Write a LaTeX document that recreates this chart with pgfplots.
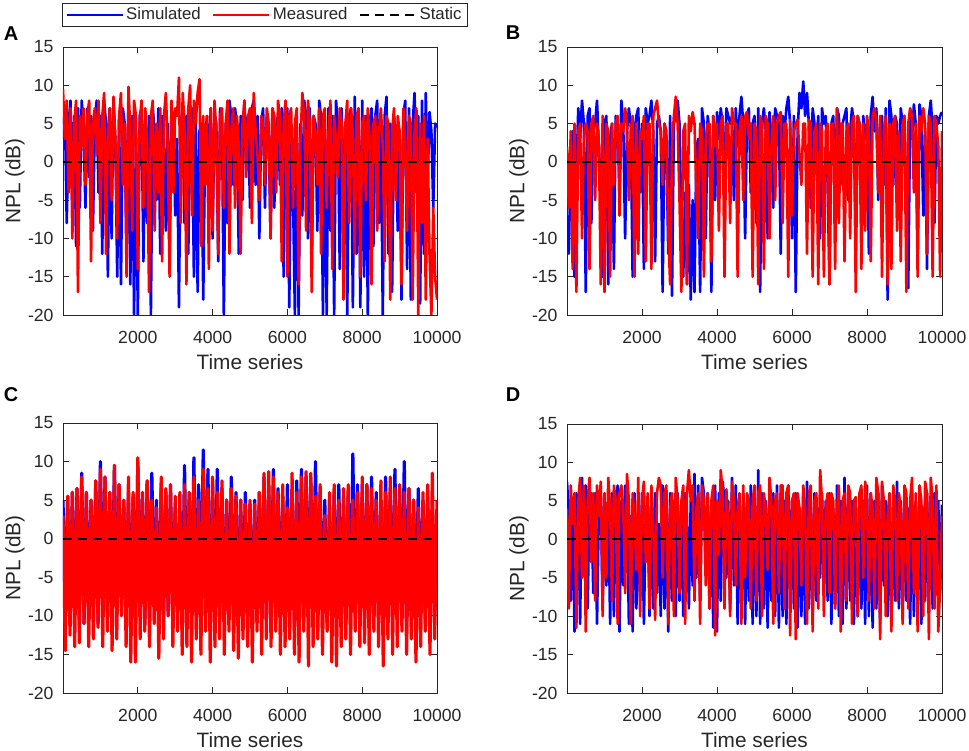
\documentclass[border=0pt]{standalone}
\usepackage{pgfplots}
\usepackage{pgfplotstable}
\pgfplotsset{compat=1.18}
\usepackage{fontspec}
\setmainfont{Liberation Sans}
\definecolor{txt}{HTML}{262626}
\definecolor{simb}{HTML}{0000FF}
\definecolor{measr}{HTML}{FF0000}

% Panel A: simulated (col 0), measured (col 1), step 50
\pgfplotstableread[row sep=\\, header=false]{
3 9.5\\ 7 3\\ -8 8\\ 5 -4\\ 8 7\\ -3 -10\\ 6 5\\ -11 8\\ 7 -17\\ -6 6\\
8 2\\ 4 7\\ -6 -3\\ 7 6\\ -2 8\\ 6 -13\\ -9 5\\ 5 7\\ 8 1\\ -4 8\\
6 -8\\ -12 6\\ 8 9\\ 5 -12\\ -15 4\\ 7 7\\ -10 -5\\ 8 8.5\\ 3 3\\ -15 -10\\
6 6\\ -16 9\\ 7 -3\\ 5 5\\ -12 -15\\ 8 9.8\\ -16 4\\ 6 -9\\ -20 8\\ 4 6\\
-20 -14\\ 6 5\\ 7 8\\ -13 -6\\ 5 7\\ -8 3\\ 6 -17\\ -20 6\\ 7 8\\ 4 -9\\
-5 5\\ 7 -4\\ -12 7\\ 6 -13\\ 3 6\\ -9 9\\ 5 2\\ -13 -15\\ 7 8\\ 6 -4\\
-7 7\\ 3 6\\ -19 11\\ 5 -8\\ 7 9\\ -8 5\\ 6 -16\\ -12 7\\ 4 10\\ 7 -7\\
-15 8\\ 6 5\\ -17 9\\ 4 10.8\\ 5 -11\\ -18 6\\ 3 -3\\ 6 6\\ -2 -14\\ 7 7\\
-10 -9\\ 6 8\\ 5 4\\ -13 -12\\ 7 6\\ 6 7\\ -20 -6\\ 5 5\\ -8 8\\ 8 -12\\
6 4\\ -3 7\\ 7 -6\\ 5 6\\ -12 2\\ 6 -12\\ -5 5\\ 8 8\\ 2 -2\\ 6 6\\
-6 7\\ 7 -8\\ 8 9\\ -3 4\\ 6 1\\ -10 -5\\ 5 6\\ 7 5\\ -6 -3\\ 6 7\\
4 5\\ -10 -10\\ 7 7\\ -6 6\\ 5 -4\\ 6 8\\ -3 6\\ 7 -13\\ -15 5\\ 6 8\\
7 -15\\ -19 6\\ 5 7\\ -4 -6\\ -20 5\\ 6 7\\ -20 -16\\ 5 3\\ -7 9\\ 8 6\\
6 -9\\ -10 8\\ 7 5\\ -14 -17\\ 6 6\\ 5 4\\ -9 -3\\ 8 7\\ 6 -12\\ -20 6\\
5 7\\ -20 -6\\ 7 4\\ -9 8\\ 6 -14\\ -20 6\\ 8 3\\ 5 -2\\ -14 7\\ 7 5\\
-6 -18\\ 5 5\\ -20 8\\ 6 -8\\ 7 7\\ -19 4\\ 8.5 -12\\ -12 6\\ 6 7\\ -19 -15\\
8 5\\ -15 6\\ 6 -5\\ -20 7\\ 5 3\\ 7 -16\\ -11 5\\ 6 6\\ 8 -9\\ -8 4\\
5 7\\ -20 2\\ 6 -13\\ 8.5 6\\ -12 5\\ 5 -18\\ -17 4\\ 6 7\\ 3 -5\\ -9 6\\
4 4\\ -18 -16\\ 6 7\\ 8 3\\ -14 -9\\ 7 6\\ -18 5\\ 5 -18\\ 9 4\\ -4 7\\
6 -20\\ -18.5 5\\ 8 -8\\ -12 6\\ 9 -18\\ -3 3\\ 6.5 -12\\ 4 -20\\ -6 -6\\ 5 -15\\
4.5 -18\\
}\dataA

% Panel B
\pgfplotstableread[row sep=\\, header=false]{
-7 2\\ -12 -6\\ 2 4\\ 4 -14\\ -15 5\\ -2 -17\\ 7 4\\ 3 5\\ 8 -10\\ 5 3\\
-17 5\\ 6 4\\ 7 -14\\ -8 5\\ 4 6\\ 5 -5\\ 8 5\\ 2 3\\ -3 -16\\ -15 6\\
5 -17\\ 6 5\\ -16 4\\ 3 -15\\ 5 5\\ -14 -3\\ 6 5\\ 4 6\\ -2 -7\\ 8 5\\
5 4\\ -10 7\\ 4 5\\ 7 -5\\ 5 4\\ -15 6\\ 4 -15\\ 6 5\\ 7 -12\\ -4 4\\
5 3\\ -14 6\\ 7 -13\\ 5 5\\ 6 5\\ 8 -14\\ 4 6\\ -13 7\\ 5 8\\ 6 5\\
4 4\\ -17 -3\\ 5 5\\ 3 4\\ -12 -9\\ 6 -16\\ -17.5 2\\ 5 6\\ 6 8.5\\ 8 5\\
5 -5\\ -8 -17\\ -15 4\\ -4 5\\ -16 -16\\ -3 6\\ -18 4\\ -5 6.5\\ -17 5\\ 2 -4\\
3 -10\\ -17 5\\ 7 4\\ 5 -15\\ -10 3\\ 6 5\\ 4 5\\ -17 -13\\ 6 6\\ -5 2\\
6.5 5\\ 3 -9\\ 7 5\\ 5 6\\ -3 -15\\ 7 5\\ 6 5\\ 5 -8\\ 6 7\\ -5 5\\
7 5\\ 2 -15\\ 6 4\\ 8.5 6\\ 5 -5\\ -10 6\\ 6 6.5\\ 7 3\\ -4 5\\ 5 -15\\
6 5\\ -8 4\\ 7 -16\\ -17 6\\ 5 5\\ 7 -14\\ 4 6\\ -10 5\\ 6.5 -10\\ 3 2\\
-6 6\\ 7 -5\\ 6 5\\ 5 6\\ -12 6.5\\ 6 -8\\ 4 5\\ 7 5\\ 8.5 -15\\ 5 5.5\\
-10 -7\\ 6 4\\ -17 5\\ 4 5.5\\ 9 1\\ 7 -3\\ 10.5 5\\ 6 5\\ 9 -12\\ 5 5.5\\
-6 5\\ 7 -15\\ 5 4\\ 1 5\\ 6 -16\\ -10 5\\ 7 4\\ 5 -15\\ 6 4\\ -3 5\\
-16 -16\\ 5 5\\ 6 5\\ -4 -14\\ 7 7\\ 6 -8\\ -3 5\\ 5 5\\ 6 -13\\ 7 4\\
-5 5\\ 4 -10\\ 7 5\\ 5 6\\ -10 -17\\ 6 6\\ 5 5\\ -4 -14\\ 6 5\\ 3 -9\\
5 6\\ -12 4\\ 6 -13\\ 8.5 6\\ 4 7\\ 7 5\\ -5 -4\\ 5 6\\ 6 -15\\ -3 4\\
7 6\\ -18 -16\\ 8 5\\ 6 -14\\ -3 5\\ 6 6\\ 5 -9\\ -5 4\\ 7 -13\\ 5 5\\
6 6\\ -8 -17\\ -16.5 5\\ 6 7\\ 3 6\\ 7.5 -4\\ 5 5\\ -12 -15\\ 7.5 6\\ 6 4\\
-7 7\\ 4 5\\ -14 -12\\ 6 6\\ 8 5\\ 4 -15\\ -8 6\\ 6 5\\ 5 2\\ 6 -15\\
6.5 4\\
}\dataB

% Panel C, step 62.5
\pgfplotstableread[row sep=\\, header=false]{
5 3\\ -10.5 -14.5\\ 5.5 5.5\\ -11 -12.5\\ 6 6\\ -9 -14\\ 6.5 6.5\\ -10.5 -13.5\\ 8.5 8\\ -11 -11\\
6 6\\ -10 -14\\ 5 5\\ -9 -13\\ 7.5 7.5\\ -11 -11.5\\ 10 9\\ -8 -14\\ 8 8\\ -10 -12\\
6 6\\ -9 -14.5\\ 9.5 9.5\\ -10 -13\\ 7 7\\ -9 -10\\ 5 5\\ -11 -14\\ 6 8\\ -10 -16\\
5.5 6\\ -10.5 -16\\ 10 10.5\\ -9 -13\\ 6 6\\ -11 -12\\ 7.5 7.5\\ -10 -14\\ 8.5 5\\ -8 -11\\
5 4\\ -10.5 -15.5\\ 6.5 8\\ -9 -13\\ 6 6.5\\ -10 -10\\ 7 7\\ -11 -14\\ 4 5.5\\ -9 -12\\
3 6\\ -10 -15\\ 9.5 7\\ -11 -14\\ 6 6\\ -9 -16\\ 10.5 8\\ -10 -13\\ 7 5\\ -8 -15\\
11.5 9\\ -10 -12\\ 9 6.5\\ -11 -16\\ 7 8\\ -9 -14\\ 9 6\\ -10 -13\\ 6.5 7.5\\ -10.5 -15\\
5 5\\ -9 -12\\ 8 6.5\\ -11 -14.5\\ 6 5.5\\ -10 -15.5\\ 5 5\\ -9 -13\\ 6 4.5\\ -10 -14\\
4.5 5\\ -11 -16\\ 5 4.5\\ -9 -12\\ 6 6\\ -10 -15\\ 8 8.5\\ -10.5 -13\\ 7 8.7\\ -9 -14\\
9 8\\ -11 -12\\ 6.5 6\\ -10 -15\\ 5.5 7\\ -9 -14\\ 7 4\\ -10 -13\\ 6 8.5\\ -11 -15\\
7.5 6\\ -9 -16\\ 9 8\\ -10 -12\\ 8 8.7\\ -9 -16.5\\ 8 8.5\\ -11 -14\\ 10 5.5\\ -10.5 -13\\
6 7\\ -9 -15\\ 5 3\\ -11 -12\\ 4 6\\ -10 -16\\ 6 7\\ -9 -16.5\\ 7 5\\ -10 -14\\
5.5 6.5\\ -11 -13\\ 6 7\\ -9 -15\\ 11 5\\ -10 -12\\ 7 6\\ -9 -14\\ 6 8\\ -10 -13.5\\
7 7\\ -11 -15\\ 8 6.5\\ -9 -12\\ 6 5\\ -10 -14\\ 5 7.5\\ -11 -16.5\\ 8 6\\ -9 -13\\
6 8\\ -10 -15\\ 9 6.5\\ -10.5 -14\\ 6 7\\ -9 -12\\ 10 6\\ -11 -15\\ 6.5 6.5\\ -10 -13\\
5 5\\ -9 -16\\ 6.5 4\\ -10 -14\\ 5 6\\ -11 -12\\ 5.5 7\\ -9 -15\\ 5 8.5\\ -10 -13\\
3 5\\
}\dataC

% Panel D, step 50
\pgfplotstableread[row sep=\\, header=false]{
7.5 4\\ 3 -9\\ -8 7\\ 5 2\\ -12 6\\ 6 -11.5\\ 3 5\\ -11 8\\ 8 -5\\ -3 7\\
7 -12\\ -9 5\\ 5 8\\ 6 -3\\ -7 6\\ 6 -8\\ -11 7\\ 4 3\\ 7 7.5\\ -9 -10\\
6 6\\ -6 -5\\ 5 8\\ -11 4\\ 6 -8\\ -10 7\\ 4 5\\ 7 -11\\ -12 6\\ 5 7\\
-6 4\\ 7 -7\\ 5 8.5\\ -11 5\\ 3 -11\\ -12 6\\ 6 3\\ -9 -4\\ 4 8\\ -8 -10\\
6 5\\ -11 7.5\\ 3 -3\\ 5 6\\ -10 -9\\ 5 7\\ -9 2\\ 6 -10.5\\ -7 6\\ 2 8\\
-10 7\\ 7 -5\\ -9 6\\ 5 7\\ -12 -11\\ 6 4\\ -8 6\\ 5 -10\\ -10 8\\ 6 5\\
-8 -7\\ 5 5\\ -10 7\\ 6 -11\\ 3 6\\ -9 9\\ 5 5\\ -6 7\\ 8.5 -8\\ -5 4\\
7 6\\ -8 -11\\ 8 7\\ 6 5\\ -4 -6\\ 6 6\\ -9 -9\\ 5 5\\ -11.5 7\\ 7 -12.5\\
-12 5\\ 6 -2\\ -8 9\\ 7.5 6\\ 5 -9\\ -5 6.5\\ 5 2\\ -9 -10\\ 8 7.5\\ -6 5\\
7 -6\\ -11 4\\ 5 6\\ -9 -11\\ 6 7\\ -11 -5\\ 4 6\\ -8 5\\ 7 -9\\ -11 5\\
5 7\\ -10 -8\\ 9 6\\ -11 7\\ 6 -10\\ -9 6\\ 5 4\\ -11.5 -4\\ 4 8\\ -8 5\\
6 -11\\ -10 5\\ 7 6\\ -11.5 -7\\ 6 7\\ -10 7\\ 5 -9\\ -11 6\\ 7 7\\ -6 -12.5\\
5 5\\ -9 6\\ 6 -13\\ -11.5 6\\ 4 4\\ -10 -6\\ 6 7\\ -11 4\\ 7.5 -11\\ -9 6\\
5 7\\ -10.5 -12\\ 6 5\\ -8 6\\ 4 -9\\ -5 9\\ 6 5\\ -3 -10\\ 5 4\\ -8 6\\
6 -7\\ -11 6\\ 4 5\\ -9 -9\\ 7 4\\ -10 7\\ 5 -12\\ -11 5\\ 8 6\\ -9 -8\\
6 7\\ -8 6\\ 5 -11\\ -11 5\\ 4 5.5\\ -10 -10\\ 6 6\\ -9 7\\ 5 -5\\ -11 7.5\\
7 5\\ -10 -8\\ 6 6\\ -11.5 4\\ 5 -9\\ -9 8\\ 6 6\\ -11 -13\\ 7 7.5\\ -6 5\\
5 -10\\ -10 3\\ 6 6\\ -11 -12\\ 4 7\\ -8 5\\ 7.5 -8\\ -9 6\\ 5 4\\ -10.5 -11\\
6 7\\ -8 6\\ 4 -9\\ -11 5\\ 6 8\\ -10 -7\\ 5 6\\ -9 -12\\ 6 7\\ -11 5\\
4 -10\\ -8 7.5\\ 6 6\\ -5 -13\\ 3 8\\ -9 5\\ 6 -9\\ -3 7\\ 5 -12\\ -7 -6\\
4.5 3\\
}\dataD

\pgfplotsset{
  npl/.style={
    scale only axis,
    anchor=south west,
    xmin=0, xmax=10000, ymin=-20, ymax=15,
    xtick={2000,4000,6000,8000,10000},
    ytick={-20,-15,-10,-5,0,5,10,15},
    minor tick num=0,
    scaled x ticks=false,
    /pgf/number format/1000 sep={},
    /pgf/number format/assume math mode=true,
    tick align=inside,
    major tick length=3pt,
    axis line style={txt, line width=0.45pt},
    every tick/.style={txt, line width=0.45pt},
    ticklabel style={font=\fontsize{8.8}{9}\selectfont, text=txt},
    xticklabel style={anchor=center, yshift=-11pt},
    yticklabel style={xshift=-1.2pt},
    xlabel={Time series},
    ylabel={NPL (dB)},
    label style={font=\fontsize{10.4}{11}\selectfont, text=txt},
    xlabel style={at={(axis description cs:0.5,0)}, anchor=center, yshift=-23.5pt},
    ylabel style={at={(axis description cs:0,0.5)}, anchor=center, yshift=24pt},
    every axis plot/.append style={line width=1.3pt, line join=round},
  },
  stat/.style={black, line width=0.9pt, dash pattern=on 4.5pt off 3pt},
}

\begin{document}
\begin{tikzpicture}
\useasboundingbox (0,0) rectangle (484.5pt,375pt);

% Panel A
\begin{axis}[npl, at={(31.5pt,217.5pt)}, width=187pt, height=134pt,
  legend columns=3,
  legend style={at={(axis description cs:0.54,1.119)}, anchor=center,
    draw=txt, line width=0.45pt, font=\fontsize{8.4}{9}\selectfont, text=txt,
    inner xsep=1.5pt, inner ysep=0.5pt,
    nodes={inner xsep=1.3pt, inner ysep=1.5pt},
    /tikz/every even column/.append style={column sep=4.5pt}},
  legend image code/.code={\draw[#1, line width=0.9pt] (0pt,0pt) -- (28pt,0pt);},
]
\addplot[simb] table[x expr=\coordindex*50, y index=0] {\dataA};
\addlegendentry{Simulated}
\addplot[measr] table[x expr=\coordindex*50, y index=1] {\dataA};
\addlegendentry{Measured}
\addplot[stat] coordinates {(0,0) (10000,0)};
\addlegendentry{Static}
\end{axis}

% Panel B
\begin{axis}[npl, at={(283.5pt,217.5pt)}, width=187.5pt, height=134pt]
\addplot[simb] table[x expr=\coordindex*50, y index=0] {\dataB};
\addplot[measr] table[x expr=\coordindex*50, y index=1] {\dataB};
\addplot[stat] coordinates {(0,0) (10000,0)};
\end{axis}

% Panel C
\begin{axis}[npl, at={(31.5pt,28.5pt)}, width=187pt, height=135pt]
\addplot[simb, line width=1.6pt] table[x expr=\coordindex*62.5, y index=0] {\dataC};
\addplot[measr, line width=1.6pt] table[x expr=\coordindex*62.5, y index=1] {\dataC};
\addplot[stat] coordinates {(0,0) (10000,0)};
\end{axis}

% Panel D
\begin{axis}[npl, at={(283.5pt,28.5pt)}, width=187.5pt, height=134.5pt]
\addplot[simb] table[x expr=\coordindex*50, y index=0] {\dataD};
\addplot[measr] table[x expr=\coordindex*50, y index=1] {\dataD};
\addplot[stat] coordinates {(0,0) (10000,0)};
\end{axis}

\node[font=\fontsize{10}{11}\bfseries, text=black] at (5.5pt,358pt) {A};
\node[font=\fontsize{10}{11}\bfseries, text=black] at (256.5pt,358.5pt) {B};
\node[font=\fontsize{10}{11}\bfseries, text=black] at (5.5pt,177.5pt) {C};
\node[font=\fontsize{10}{11}\bfseries, text=black] at (256.5pt,177.5pt) {D};
\end{tikzpicture}
\end{document}
